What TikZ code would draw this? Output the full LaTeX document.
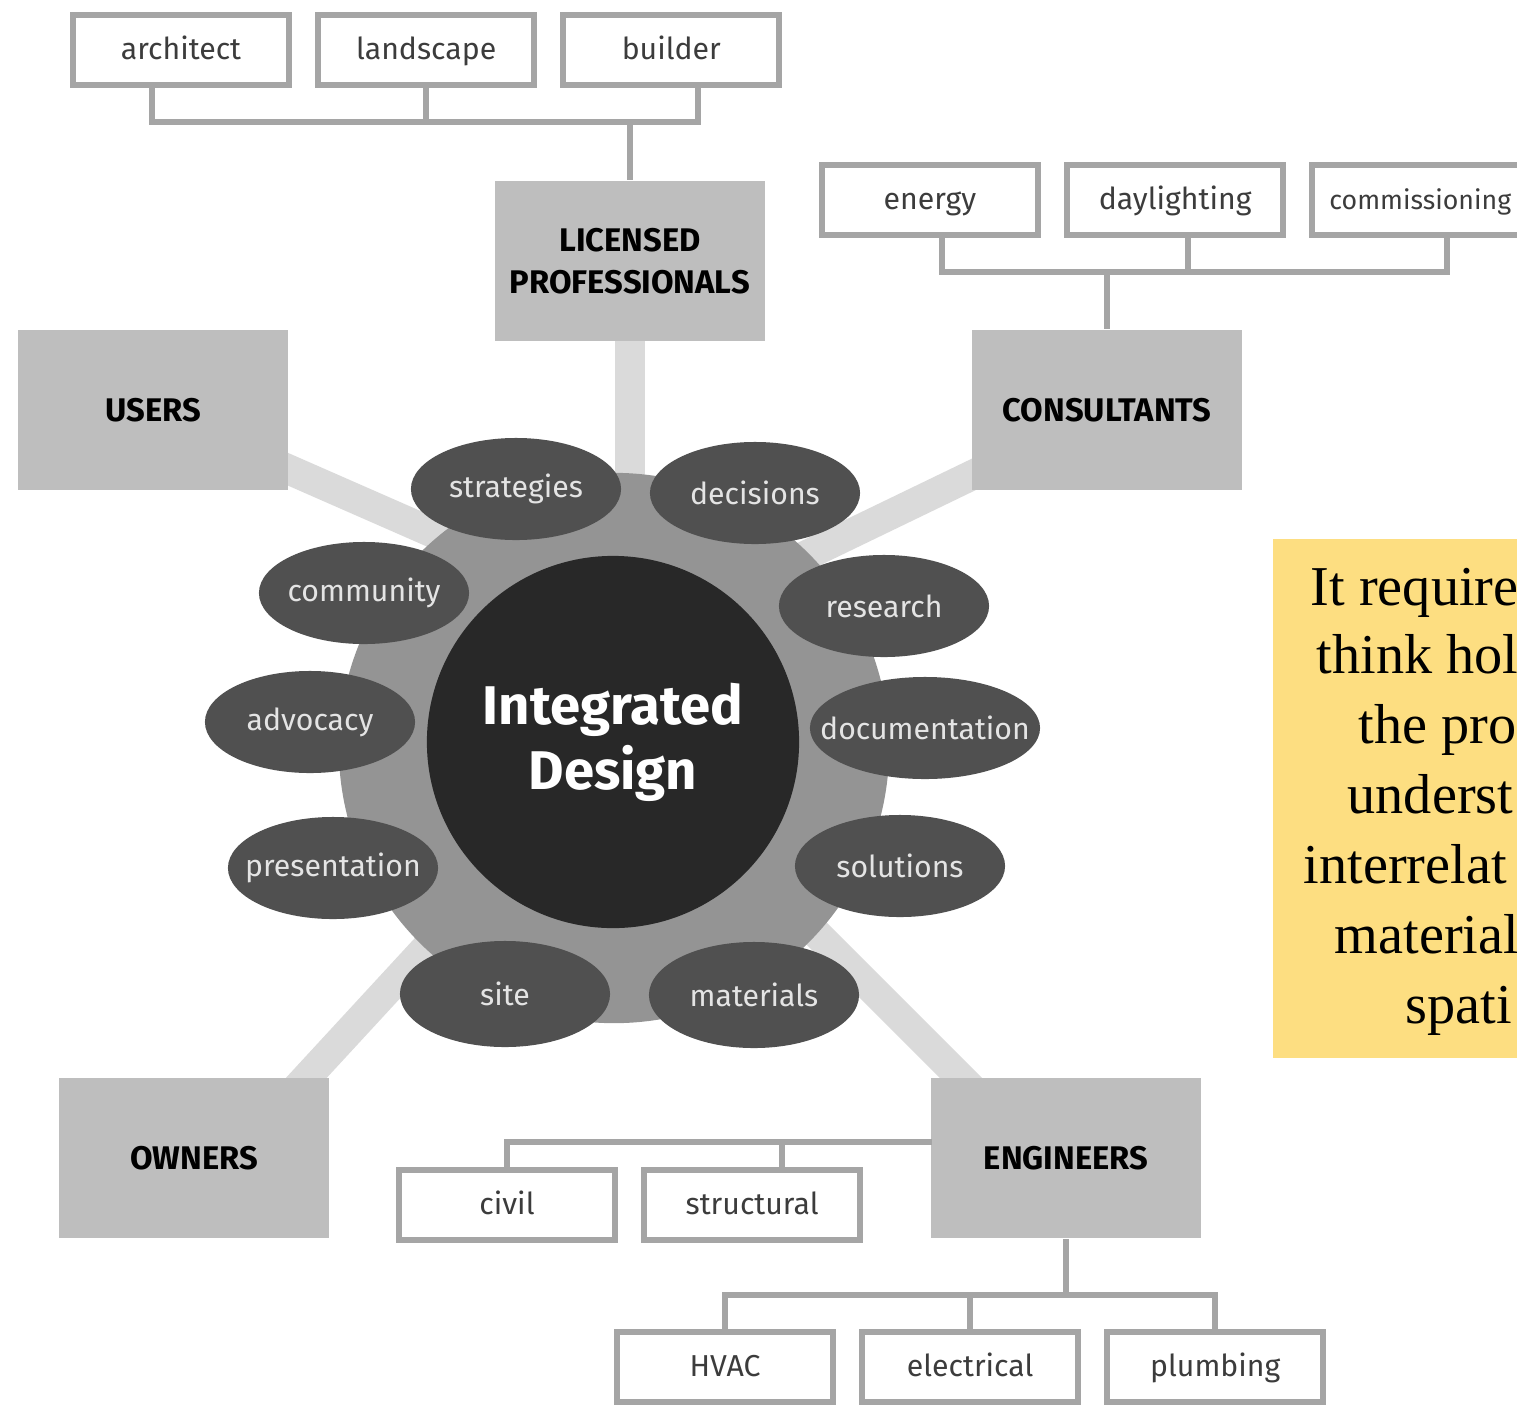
\documentclass[tikz,border=0pt]{standalone}
\usepackage{fontspec}
\setmainfont{Liberation Serif}
\newfontfamily\diagfont{Fira Sans}
\usetikzlibrary{shapes.geometric, positioning, backgrounds}
\definecolor{IDBox}{RGB}{190,190,190}
\definecolor{IDLine}{RGB}{165,165,165}
\definecolor{IDSpoke}{RGB}{218,218,218}
\definecolor{IDRing}{RGB}{148,148,148}
\definecolor{IDPetal}{RGB}{80,80,80}
\definecolor{IDCore}{RGB}{40,40,40}
\definecolor{IDText}{RGB}{60,60,60}
\definecolor{IDPetalText}{RGB}{228,228,228}
\definecolor{IDNote}{RGB}{253,222,129}

\begin{document}
\begin{tikzpicture}[x=0.01cm, y=-0.01cm,
          grpbox/.style={rectangle, fill=IDBox, minimum width=2.7cm, minimum height=1.6cm,
                         align=center, font=\diagfont\fontsize{9.3}{12}\selectfont\bfseries},
          subbox/.style={rectangle, draw=IDLine, line width=0.06cm, fill=white, inner sep=0pt,
                         minimum width=2.16cm, minimum height=0.70cm,
                         text height=0.75em, text depth=0.22em,
                         font=\diagfont\fontsize{8.6}{10}\selectfont, text=IDText},
          petal/.style={ellipse, fill=IDPetal, minimum width=2.1cm, minimum height=1.02cm, inner sep=0pt},
          petaltxt/.style={font=\diagfont\fontsize{8.6}{10}\selectfont, text=IDPetalText},
          tree/.style={draw=IDLine, line width=0.06cm},
          spoke/.style={draw=IDSpoke, line width=0.3cm},
          notetxt/.style={font=\fontsize{16}{20}\selectfont, inner sep=0pt, anchor=base west}
        ]
        \useasboundingbox (0,0) rectangle (1517,1405);
        \clip (0,0) rectangle (1517,1405);

        % Centre: ring, core and topics
        \node[circle, fill=IDRing, minimum size=5.5cm] (ring) at (614,748) {};
        \node[circle, fill=IDCore, minimum size=3.72cm, text=white, align=center,
              font=\diagfont\fontsize{15.5}{18.5}\selectfont\bfseries] (core) at (613,742) {Integrated\\Design};

        \node[petal, label={[petaltxt]center:strategies}]    (strat) at (516,489) {};
        \node[petal, label={[petaltxt]center:decisions}]     (decis) at (755,493) {};
        \node[petal, label={[petaltxt]center:community}]     (commu) at (364,593) {};
        \node[petal, label={[petaltxt]center:research}]      (resea) at (884,606) {};
        \node[petal, label={[petaltxt]center:advocacy}]      (advoc) at (310,722) {};
        \node[petal, minimum width=2.3cm,
              label={[petaltxt]center:documentation}]        (docum) at (925,728) {};
        \node[petal, label={[petaltxt]center:presentation}]  (prese) at (333,868) {};
        \node[petal, label={[petaltxt]center:solutions}]     (solut) at (900,866) {};
        \node[petal, minimum height=1.06cm,
              label={[petaltxt]center:site}]                 (site)  at (505,994) {};
        \node[petal, minimum height=1.06cm,
              label={[petaltxt]center:materials}]            (mater) at (754,995) {};

        % Stakeholder groups
        \node[grpbox] (licensed)    at (630,261)  {LICENSED\\PROFESSIONALS};
        \node[grpbox] (users)       at (153,410)  {USERS};
        \node[grpbox] (consultants) at (1107,410) {CONSULTANTS};
        \node[grpbox] (owners)      at (194,1158) {OWNERS};
        \node[grpbox] (engineers)   at (1066,1158){ENGINEERS};

        % Sub boxes
        \node[subbox] (architect) at (181,50) {architect};
        \node[subbox, right=0.23cm of architect] (landscape) {landscape};
        \node[subbox, right=0.23cm of landscape] (builder) {builder};

        \node[subbox] (energy) at (930,200) {energy};
        \node[subbox, right=0.23cm of energy] (daylighting) {daylighting};
        \node[subbox, right=0.23cm of daylighting,
              font=\diagfont\fontsize{7.6}{10}\selectfont] (commissioning) {commissioning};

        \node[subbox] (civil) at (507,1205) {civil};
        \node[subbox, right=0.23cm of civil] (structural) {structural};

        \node[subbox] (hvac) at (725,1367) {HVAC};
        \node[subbox, right=0.23cm of hvac] (electrical) {electrical};
        \node[subbox, right=0.23cm of electrical] (plumbing) {plumbing};

        % Tree lines
        \coordinate (lpbus) at (630,122);
        \draw[tree] ([xshift=-0.29cm]architect.south) |- (lpbus) -| ([xshift=0.27cm]builder.south);
        \draw[tree] (landscape.south) -- (landscape.south |- lpbus);
        \draw[tree] (lpbus) -- (licensed.north);

        \coordinate (cbus) at (1107,272);
        \draw[tree] ([xshift=0.12cm]energy.south) |- (cbus) -| ([xshift=0.27cm]commissioning.south);
        \draw[tree] ([xshift=0.13cm]daylighting.south) -- ([xshift=0.13cm]daylighting.south |- cbus);
        \draw[tree] (cbus) -- (consultants.north);

        \coordinate (ebus) at (932,1142);
        \draw[tree] (civil.north) |- (ebus);
        \draw[tree] ([xshift=0.30cm]structural.north) -- ([xshift=0.30cm]structural.north |- ebus);

        \coordinate (hbus) at (1066,1295);
        \draw[tree] (engineers.south) -- (hbus);
        \draw[tree] (hvac.north) |- (hbus) -| (plumbing.north);
        \draw[tree] (electrical.north) -- (electrical.north |- hbus);

        % Spokes behind everything
        \coordinate (sp-u) at (520,571);
        \coordinate (sp-c) at (720,597);
        \coordinate (sp-o1) at (273,1114);
        \coordinate (sp-o2) at (510,857);
        \coordinate (sp-e1) at (993,1110);
        \coordinate (sp-e2) at (743,860);
        \begin{scope}[on background layer]
          \draw[spoke] (licensed.center) -- (licensed.center |- ring.center);
          \draw[spoke] (users.center) -- (sp-u);
          \draw[spoke] (consultants.center) -- (sp-c);
          \draw[spoke] (sp-o1) -- (sp-o2);
          \draw[spoke] (sp-e1) -- (sp-e2);
        \end{scope}

        % Side note
        \node[fill=IDNote, anchor=north west, inner sep=0pt, minimum width=2.6cm,
              minimum height=5.19cm] (note) at (1272,538) {};
        \foreach \x/\y/\t [count=\i] in {1310/605/It require, 1316/673/think hol,
            1358/743/the pro, 1347/813/underst, 1303/883/interrelat,
            1334/953/material, 1405/1023/spati} {
          \node[notetxt] (note\i) at (\x,\y) {\t};
        }
      \end{tikzpicture}
\end{document}
